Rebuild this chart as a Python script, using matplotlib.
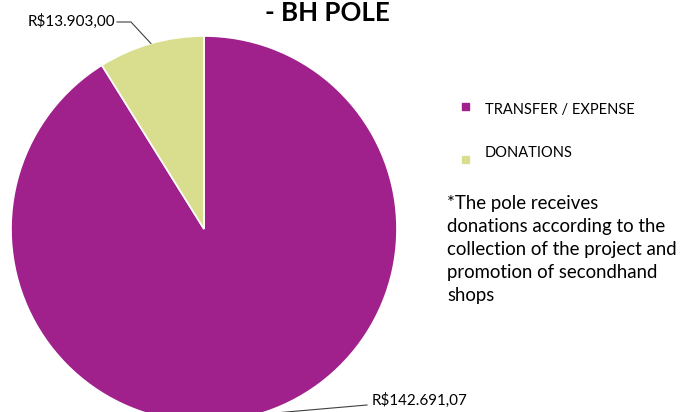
import matplotlib
matplotlib.use("Agg")
import matplotlib.pyplot as plt
from matplotlib.patches import Rectangle
import numpy as np

plt.rcParams['font.family'] = ['Lato', 'DejaVu Sans']

categories = ["TRANSFER / EXPENSE", "DONATIONS"]
values = [142691.07, 13903.00]
value_labels = ["R$142.691,07", "R$13.903,00"]
colors = ["#A0218B", "#D9DE8E"]
title = "- BH POLE"
note = ("*The pole receives\ndonations according to the\n"
        "collection of the project and\npromotion of secondhand\nshops")

W, H = 681, 412
fig = plt.figure(figsize=(W / 100, H / 100), dpi=100)

# pie axes: centre (204,229) px, radius 193 px
cx, cy, r = 204, 229, 193
ax = fig.add_axes([(cx - r) / W, (H - cy - r) / H, 2 * r / W, 2 * r / H])

wedges, _ = ax.pie(values, colors=colors, startangle=90, counterclock=False,
                   radius=1.0, center=(0, 0), frame=True,
                   wedgeprops=dict(edgecolor='white', linewidth=1.2))
ax.set_xlim(-1, 1)
ax.set_ylim(-1, 1)
ax.set_aspect('auto')
ax.axis('off')
for w in wedges:
    w.set_clip_on(False)


def px(x, y):
    return ((x - cx) / r, (cy - y) / r)


# leader lines and value labels
for w, lab in zip(wedges, value_labels):
    mid = np.deg2rad((w.theta1 + w.theta2) / 2)
    p0 = (np.cos(mid), np.sin(mid))
    if lab == value_labels[1]:
        e1 = px(131, 22)
        e2 = px(117, 22)
        ax.plot([p0[0], e1[0], e2[0]], [p0[1], e1[1], e2[1]], color='#404040',
                lw=0.8, clip_on=False)
        fig.text(115 / W, 1 - 21 / H, lab, ha='right', va='center', fontsize=11)
    else:
        e1 = px(367, 405)
        ax.plot([p0[0], e1[0]], [p0[1], e1[1]], color='#404040', lw=0.8,
                clip_on=False)
        fig.text(372 / W, 1 - 400 / H, lab, ha='left', va='center', fontsize=10.9)

# title
fig.text(327 / W, 1 - 21 / H, title, ha='center', va='baseline', fontsize=18.6,
         fontweight='bold')

# legend
leg_y_marker = [106.5, 159.5]
leg_y_text = [110, 153]
for c, cat, ym, yt in zip(colors, categories, leg_y_marker, leg_y_text):
    fig.patches.append(Rectangle(((462) / W, 1 - (ym + 3.5) / H), 7 / W, 7 / H,
                                 transform=fig.transFigure, color=c))
    fig.text(485 / W, 1 - yt / H, cat, ha='left', va='center', fontsize=10.5)

fig.text(447 / W, 1 - 195 / H, note, ha='left', va='top', fontsize=13.4,
         linespacing=1.43)

fig.savefig("out.png", dpi=100)
